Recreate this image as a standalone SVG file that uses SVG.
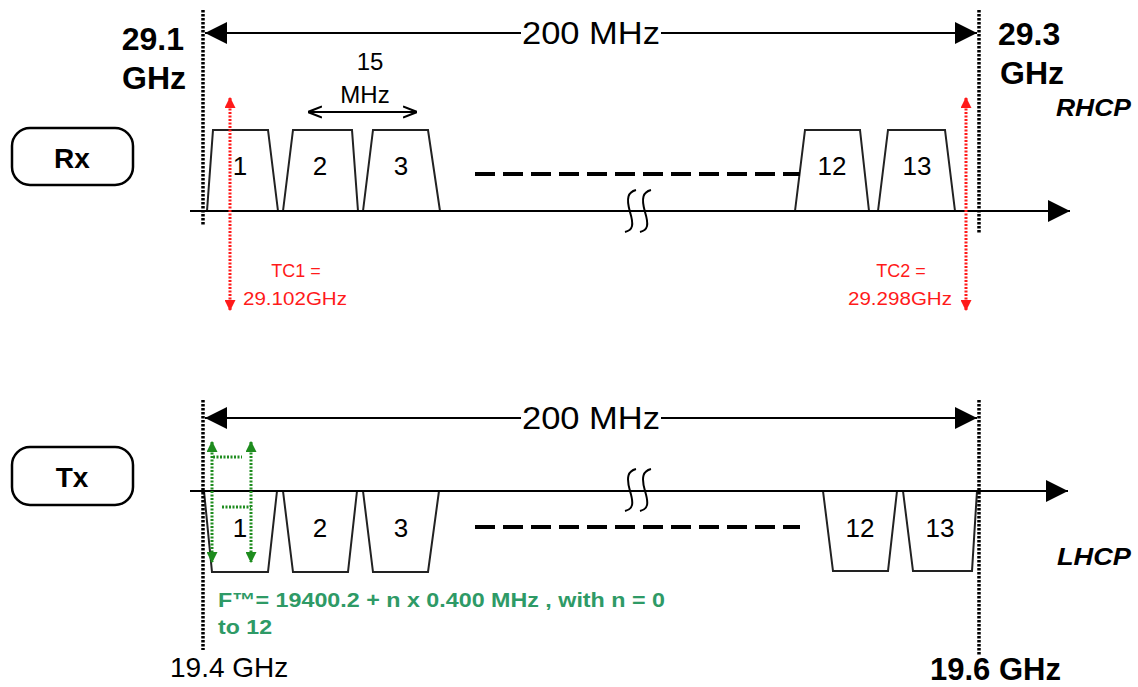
<svg xmlns="http://www.w3.org/2000/svg" width="1138" height="687" viewBox="0 0 1138 687">
<style>
text{font-family:"Liberation Sans",Arial,sans-serif;fill:#000}
.big{font-size:32px}
.bold{font-weight:bold}
.num{font-size:26px;text-anchor:middle}
.red{fill:#ff1a1a;font-size:18px}
.grn{fill:#2e9a66;font-size:20px;font-weight:bold}
.ax{stroke:#000;stroke-width:2;fill:none}
.trap{stroke:#222;stroke-width:2;fill:none}
.vdot{stroke:#000;stroke-width:3.5;stroke-dasharray:2.5 1.5;fill:none}
.rdot{stroke:#ff1a1a;stroke-width:3;stroke-dasharray:2 1.5;fill:none}
.gdot{stroke:#1e8c1e;stroke-width:3;stroke-dasharray:2 1.5;fill:none}
.dash{stroke:#000;stroke-width:4;stroke-dasharray:20 8;fill:none}
.box{fill:#fff;stroke:#000;stroke-width:2.5}
</style>
<defs>
<marker id="ah" viewBox="0 0 10 10" refX="10" refY="5" markerWidth="22" markerHeight="22" markerUnits="userSpaceOnUse" orient="auto-start-reverse"><path d="M0,0 L10,5 L0,10 Z" fill="#000"/></marker>
<marker id="open" viewBox="0 0 10 10" refX="10" refY="5" markerWidth="14" markerHeight="14" markerUnits="userSpaceOnUse" orient="auto-start-reverse"><path d="M0,1 L10,5 L0,9" fill="none" stroke="#000" stroke-width="1.5"/></marker>
<marker id="rh" viewBox="0 0 10 10" refX="9" refY="5" markerWidth="11" markerHeight="11" markerUnits="userSpaceOnUse" orient="auto-start-reverse"><path d="M0,0 L10,5 L0,10 Z" fill="#ff1a1a"/></marker>
<marker id="gh" viewBox="0 0 10 10" refX="9" refY="5" markerWidth="11" markerHeight="11" markerUnits="userSpaceOnUse" orient="auto-start-reverse"><path d="M0,0 L10,5 L0,10 Z" fill="#1e8c1e"/></marker>
</defs>
<rect width="1138" height="687" fill="#fff"/>

<g id="rx-box"><rect class="box" x="12" y="128" width="121" height="57" rx="18"/><text x="72" y="168" font-size="28" font-weight="bold" text-anchor="middle">Rx</text></g>
<g id="tx-box"><rect class="box" x="12" y="447" width="121" height="58" rx="18"/><text x="72" y="487" font-size="28" font-weight="bold" text-anchor="middle">Tx</text></g>

<g id="rx-ch1"><path class="trap" d="M207,211 L213,130 L268,130 L278,211"/><text class="num" x="240" y="175">1</text></g>
<g id="rx-ch2"><path class="trap" d="M283,211 L293,130 L352,130 L358,211"/><text class="num" x="320" y="175">2</text></g>
<g id="rx-ch3"><path class="trap" d="M363,211 L373,130 L428,130 L440,211"/><text class="num" x="401" y="175">3</text></g>
<g id="rx-ch12"><path class="trap" d="M795,211 L805,130 L860,130 L869,211"/><text class="num" x="832" y="175">12</text></g>
<g id="rx-ch13"><path class="trap" d="M878,211 L888,130 L945,130 L955,211"/><text class="num" x="917" y="175">13</text></g>

<g id="tx-ch1"><path class="trap" d="M204,491 L212,572 L268,572 L277,491"/><text class="num" x="240" y="537">1</text></g>
<g id="tx-ch2"><path class="trap" d="M283,491 L293,572 L348,572 L357,491"/><text class="num" x="320" y="537">2</text></g>
<g id="tx-ch3"><path class="trap" d="M363,491 L373,572 L428,572 L439,491"/><text class="num" x="401" y="537">3</text></g>
<g id="tx-ch12"><path class="trap" d="M823,491 L833,571 L888,571 L897,491"/><text class="num" x="860" y="537">12</text></g>
<g id="tx-ch13"><path class="trap" d="M903,491 L913,571 L972,571 L977,491"/><text class="num" x="940" y="537">13</text></g>

<g id="connectors">
<!-- Rx -->
<line class="vdot" x1="203" y1="10" x2="203" y2="225"/>
<line class="vdot" x1="979" y1="10" x2="979" y2="234"/>
<line class="ax" x1="205" y1="33" x2="977" y2="33" marker-start="url(#ah)" marker-end="url(#ah)"/>
<line class="ax" x1="190" y1="211" x2="1070" y2="211" marker-end="url(#ah)"/>
<line class="ax" x1="308" y1="112" x2="417" y2="112" stroke-width="1.5" marker-start="url(#open)" marker-end="url(#open)"/>
<line class="dash" x1="475" y1="174" x2="800" y2="174"/>
<path class="ax" d="M625,232 C633,230 634,225 630,212 C626,198 628,192 636,190 M640,232 C648,230 649,225 645,212 C641,198 643,192 651,190" stroke-width="2"/>
<line class="rdot" x1="230" y1="98" x2="230" y2="310" marker-start="url(#rh)" marker-end="url(#rh)"/>
<line class="rdot" x1="966" y1="98" x2="966" y2="310" marker-start="url(#rh)" marker-end="url(#rh)"/>
<!-- Tx -->
<line class="vdot" x1="203" y1="400" x2="203" y2="650"/>
<line class="vdot" x1="979" y1="400" x2="979" y2="655"/>
<line class="ax" x1="205" y1="418" x2="977" y2="418" marker-start="url(#ah)" marker-end="url(#ah)"/>
<line class="ax" x1="190" y1="491" x2="1068" y2="491" marker-end="url(#ah)"/>
<line class="dash" x1="475" y1="527" x2="800" y2="527"/>
<path class="ax" d="M625,511 C633,509 634,504 630,491 C626,477 628,471 636,469 M640,511 C648,509 649,504 645,491 C641,477 643,471 651,469" stroke-width="2"/>
<line class="gdot" x1="212" y1="442" x2="212" y2="562" marker-start="url(#gh)" marker-end="url(#gh)"/>
<line class="gdot" x1="251" y1="442" x2="251" y2="562" marker-start="url(#gh)" marker-end="url(#gh)"/>
<line class="gdot" x1="213" y1="457" x2="242" y2="457"/>
<line class="gdot" x1="222" y1="507" x2="251" y2="507"/>
</g>

<g id="labels">
<rect x="521" y="18" width="140" height="30" fill="#fff"/>
<text class="big" x="522" y="44" textLength="138" lengthAdjust="spacingAndGlyphs">200 MHz</text>
<rect x="521" y="403" width="140" height="30" fill="#fff"/>
<text class="big" x="522" y="429" textLength="138" lengthAdjust="spacingAndGlyphs">200 MHz</text>
<text class="big bold" x="184" y="50" text-anchor="end">29.1</text>
<text class="big bold" x="186" y="89" text-anchor="end">GHz</text>
<text class="big bold" x="998" y="45">29.3</text>
<text class="big bold" x="1000" y="84">GHz</text>
<text x="1056" y="116" font-size="23" font-weight="bold" font-style="italic" textLength="75" lengthAdjust="spacingAndGlyphs">RHCP</text>
<text x="1057" y="565" font-size="23" font-weight="bold" font-style="italic" textLength="74" lengthAdjust="spacingAndGlyphs">LHCP</text>
<text x="370" y="70" font-size="24" text-anchor="middle">15</text>
<text x="365" y="103" font-size="24" text-anchor="middle">MHz</text>
<text class="red" x="296" y="277" text-anchor="middle">TC1 =</text>
<text class="red" x="243" y="305" textLength="104" lengthAdjust="spacingAndGlyphs">29.102GHz</text>
<text class="red" x="901" y="277" text-anchor="middle">TC2 =</text>
<text class="red" x="848" y="305" textLength="104" lengthAdjust="spacingAndGlyphs">29.298GHz</text>
<text class="grn" x="218" y="607" textLength="447" lengthAdjust="spacingAndGlyphs">F™= 19400.2 + n x 0.400 MHz , with n = 0</text>
<text class="grn" x="218" y="634" textLength="54" lengthAdjust="spacingAndGlyphs">to 12</text>
<text x="170" y="677" font-size="28">19.4 GHz</text>
<text x="930" y="680" font-size="31" font-weight="bold">19.6 GHz</text>
</g>
</svg>
